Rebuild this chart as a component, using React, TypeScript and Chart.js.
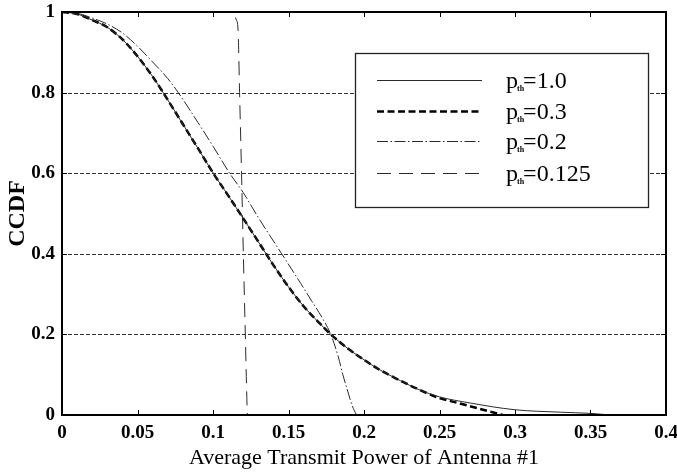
import React, { useEffect, useRef } from "react";
import { Chart, registerables } from "chart.js";

Chart.register(...registerables);

// ---- data ----
const xTickValues = [0, 0.05, 0.1, 0.15, 0.2, 0.25, 0.3, 0.35, 0.4];
const yTickValues = [0, 0.2, 0.4, 0.6, 0.8, 1];
const gridValues = [0.2, 0.4, 0.6, 0.8];

const seriesLabels = ["1.0", "0.3", "0.2", "0.125"];

const pth10X = [0, 0.01, 0.02, 0.03, 0.04, 0.05, 0.06, 0.067, 0.08, 0.09, 0.1, 0.11, 0.12, 0.13, 0.14, 0.15, 0.16, 0.17, 0.178, 0.19, 0.2, 0.21, 0.22, 0.237, 0.25, 0.27, 0.3, 0.33, 0.35, 0.366, 0.4];
const pth10Y = [1.0, 0.995, 0.98, 0.962, 0.932, 0.89, 0.84, 0.8, 0.722, 0.662, 0.601, 0.545, 0.488, 0.43, 0.372, 0.318, 0.27, 0.23, 0.2, 0.163, 0.137, 0.113, 0.093, 0.062, 0.045, 0.03, 0.013, 0.007, 0.004, 0.0, 0.0];

const pth03X = [0, 0.01, 0.02, 0.03, 0.04, 0.05, 0.06, 0.067, 0.08, 0.09, 0.1, 0.11, 0.12, 0.13, 0.14, 0.15, 0.16, 0.17, 0.178, 0.19, 0.2, 0.21, 0.22, 0.237, 0.25, 0.26, 0.275, 0.285, 0.292];
const pth03Y = [1.0, 0.995, 0.98, 0.962, 0.932, 0.89, 0.84, 0.8, 0.722, 0.662, 0.601, 0.545, 0.488, 0.43, 0.372, 0.318, 0.27, 0.23, 0.2, 0.163, 0.137, 0.113, 0.093, 0.062, 0.042, 0.032, 0.017, 0.007, 0.0];

const pth02X = [0, 0.01, 0.02, 0.03, 0.04, 0.05, 0.06, 0.07, 0.077, 0.09, 0.1, 0.111, 0.12, 0.13, 0.1455, 0.158, 0.165, 0.172, 0.178, 0.183, 0.186, 0.189, 0.192, 0.195];
const pth02Y = [1.0, 0.997, 0.985, 0.97, 0.948, 0.915, 0.876, 0.835, 0.8, 0.726, 0.667, 0.6, 0.552, 0.49, 0.4, 0.327, 0.285, 0.243, 0.2, 0.144, 0.1, 0.062, 0.025, 0.0];

const pth0125X = [0, 0.108, 0.112, 0.114, 0.1155, 0.1166, 0.1176, 0.1189, 0.1201, 0.1214, 0.1225, 0.1228];
const pth0125Y = [1, 1, 0.998, 0.993, 0.98, 0.955, 0.8, 0.6, 0.4, 0.2, 0.03, 0.0];

const toPoints = (xs: number[], ys: number[]) => xs.map((x, i) => ({ x, y: ys[i] }));

const SERIF = "'Liberation Serif', 'Times New Roman', serif";

const zeroPad = (s: any) => {
  s.paddingTop = 0;
  s.paddingBottom = 0;
  s.paddingLeft = 0;
  s.paddingRight = 0;
};

const frameAndGridPlugin = {
  id: "frameAndGrid",
  beforeDatasetsDraw(chart: any) {
    const { ctx, chartArea, scales } = chart;
    const { left, right } = chartArea;
    ctx.save();
    ctx.strokeStyle = "#333";
    ctx.lineWidth = 1;
    ctx.setLineDash([4, 2]);
    gridValues.forEach((v) => {
      const y = Math.round(scales.y.getPixelForValue(v)) + 0.5;
      ctx.beginPath();
      ctx.moveTo(left, y);
      ctx.lineTo(right, y);
      ctx.stroke();
    });
    ctx.restore();
  },
  afterDatasetsDraw(chart: any) {
    const { ctx, chartArea, scales } = chart;
    const { left, right, top, bottom } = chartArea;
    ctx.save();
    ctx.setLineDash([]);
    ctx.strokeStyle = "#000";
    ctx.lineWidth = 1;
    const tl = 5;
    xTickValues.forEach((v) => {
      const x = Math.round(scales.x.getPixelForValue(v)) + 0.5;
      ctx.beginPath();
      ctx.moveTo(x, bottom);
      ctx.lineTo(x, bottom - tl);
      ctx.moveTo(x, top);
      ctx.lineTo(x, top + tl);
      ctx.stroke();
    });
    yTickValues.forEach((v) => {
      const y = Math.round(scales.y.getPixelForValue(v)) + 0.5;
      ctx.beginPath();
      ctx.moveTo(left, y);
      ctx.lineTo(left + tl, y);
      ctx.moveTo(right, y);
      ctx.lineTo(right - tl, y);
      ctx.stroke();
    });
    ctx.lineWidth = 2;
    ctx.strokeRect(left, top, right - left, bottom - top);
    ctx.restore();
  },
};

const legendPlugin = {
  id: "paperLegend",
  afterDraw(chart: any) {
    const { ctx } = chart;
    ctx.save();
    ctx.fillStyle = "#fff";
    ctx.fillRect(355, 53, 293, 154);
    ctx.strokeStyle = "#222";
    ctx.lineWidth = 1.3;
    ctx.setLineDash([]);
    ctx.strokeRect(355.5, 53.5, 293, 154);
    const rows = [80, 111, 141, 173];
    chart.data.datasets.forEach((ds: any, i: number) => {
      const y = rows[i] + 0.5;
      ctx.strokeStyle = ds.borderColor;
      ctx.lineWidth = ds.borderWidth;
      ctx.setLineDash(ds.borderDash || []);
      ctx.beginPath();
      ctx.moveTo(377, y);
      ctx.lineTo(482, y);
      ctx.stroke();
      ctx.setLineDash([]);
      ctx.fillStyle = "#000";
      ctx.textBaseline = "alphabetic";
      ctx.textAlign = "left";
      ctx.font = `24px ${SERIF}`;
      const baseY = rows[i] + 8;
      ctx.fillText("p", 506, baseY);
      const pw = ctx.measureText("p").width;
      ctx.font = `bold 8px ${SERIF}`;
      ctx.fillText("th", 506 + pw - 1, baseY + 3);
      const tw = ctx.measureText("th").width;
      ctx.font = `24px ${SERIF}`;
      ctx.fillText("=" + seriesLabels[i], 506 + pw + tw - 2, baseY);
    });
    ctx.restore();
  },
};

export default function App() {
  const canvasRef = useRef<HTMLCanvasElement | null>(null);

  useEffect(() => {
    document.body.style.margin = "0";
    const canvas = canvasRef.current;
    if (!canvas) return;
    const chart = new Chart(canvas, {
      type: "line",
      data: {
        datasets: [
          {
            label: "pth=1.0",
            data: toPoints(pth10X, pth10Y),
            borderColor: "#2a2a2a",
            borderWidth: 1,
            borderDash: [],
            pointRadius: 0,
            cubicInterpolationMode: "monotone",
            fill: false,
          },
          {
            label: "pth=0.3",
            data: toPoints(pth03X, pth03Y),
            borderColor: "#000",
            borderWidth: 2.5,
            borderDash: [7, 3.5],
            pointRadius: 0,
            cubicInterpolationMode: "monotone",
            fill: false,
          },
          {
            label: "pth=0.2",
            data: toPoints(pth02X, pth02Y),
            borderColor: "#2a2a2a",
            borderWidth: 1,
            borderDash: [11, 2.5, 1.5, 2.5],
            pointRadius: 0,
            cubicInterpolationMode: "monotone",
            fill: false,
          },
          {
            label: "pth=0.125",
            data: toPoints(pth0125X, pth0125Y),
            borderColor: "#2a2a2a",
            borderWidth: 1,
            borderDash: [14, 8],
            pointRadius: 0,
            cubicInterpolationMode: "monotone",
            fill: false,
          },
        ],
      },
      options: {
        responsive: false,
        animation: false,
        events: [],
        layout: { padding: { top: 12, right: 11, left: 0, bottom: 0 } },
        plugins: { legend: { display: false }, tooltip: { enabled: false } },
        scales: {
          x: {
            type: "linear",
            min: 0,
            max: 0.4,
            afterBuildTicks: (s: any) => {
              s.ticks = xTickValues.map((v) => ({ value: v }));
            },
            afterFit: (s: any) => {
              s.height = 60;
              zeroPad(s);
            },
            grid: { display: false, drawTicks: false },
            border: { display: false },
            ticks: {
              padding: 7,
              color: "#000",
              maxRotation: 0,
              autoSkip: false,
              font: { family: SERIF, size: 19, weight: "bold" },
              callback: (v: any) => String(Number(Number(v).toFixed(2))),
            },
            title: {
              display: true,
              text: "Average Transmit Power of Antenna #1",
              color: "#000",
              font: { family: SERIF, size: 22 },
              padding: { top: 0, bottom: 4 },
            },
          },
          y: {
            type: "linear",
            min: 0,
            max: 1,
            afterBuildTicks: (s: any) => {
              s.ticks = yTickValues.map((v) => ({ value: v }));
            },
            afterFit: (s: any) => {
              s.width = 62;
              zeroPad(s);
            },
            grid: { display: false, drawTicks: false },
            border: { display: false },
            ticks: {
              padding: 7,
              color: "#000",
              autoSkip: false,
              font: { family: SERIF, size: 19, weight: "bold" },
              callback: (v: any) => String(Number(Number(v).toFixed(1))),
            },
            title: {
              display: true,
              text: "CCDF",
              color: "#000",
              font: { family: SERIF, size: 24, weight: "bold" },
              padding: { top: 3, bottom: 0 },
            },
          },
        },
      },
      plugins: [frameAndGridPlugin, legendPlugin],
    } as any);
    return () => chart.destroy();
  }, []);

  return (
    <div style={{ width: 677, height: 475, background: "#fff" }}>
      <canvas ref={canvasRef} width={677} height={475} style={{ display: "block" }} />
    </div>
  );
}
